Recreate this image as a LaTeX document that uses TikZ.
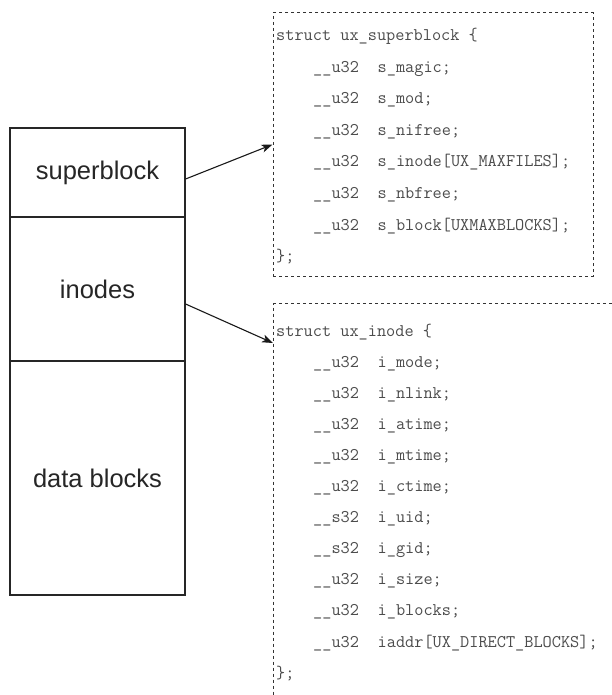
\documentclass[tikz,border=0pt]{standalone}
\usepackage{fontspec}
\setmainfont{Liberation Sans}
\usetikzlibrary{arrows.meta,calc}
\begin{document}
\begin{tikzpicture}[x=1pt,y=-1pt,
  cell/.style={draw=black!85,line width=1.2pt,minimum width=175pt,inner sep=0pt,
    font=\fontsize{25.5}{30}\selectfont,text=black!85},
  dbox/.style={draw=black!80,line width=1pt,dash pattern=on 3pt off 3pt,inner sep=0pt},
  code/.style={anchor=base west,inner sep=0pt,font=\ttfamily\fontsize{17.8}{20}\selectfont,text=black!70},
  arr/.style={draw=black!90,line width=1.1pt,-{Stealth[length=11pt,width=8pt,inset=3pt]}}]
\useasboundingbox[fill=white] (0,0) rectangle (612,695);
\clip (0,0) rectangle (612,695);

% on-disk layout column
\node[cell,minimum height=89pt]  (c1) at (97.5,172.5) {superblock};
\node[cell,minimum height=144pt] (c2) at (97.5,289)   {inodes};
\node[cell,minimum height=234pt] (c3) at (97.5,478)   {data blocks};

% struct ux_superblock
\node[dbox,minimum width=320pt,minimum height=263pt] (sbox) at (433,144.5) {};
\node[code] (s0) at (276,41) {struct ux\_superblock \{};
\foreach \t [count=\k] in {
  {\_\_u32\hspace{1.05em}s\_magic;},
  {\_\_u32\hspace{1.05em}s\_mod;},
  {\_\_u32\hspace{1.05em}s\_nifree;},
  {\_\_u32\hspace{1.05em}s\_inode[UX\_MAXFILES];},
  {\_\_u32\hspace{1.05em}s\_nbfree;},
  {\_\_u32\hspace{1.05em}s\_block[UXMAXBLOCKS];}}
  \node[code] (s\k) at (313,41+31.5*\k) {\t};
\node[code] (s7) at (276,41+31.5*7) {\};};

% struct ux_inode (runs past the right and bottom edges)
\node[dbox,anchor=north west,minimum width=400pt,minimum height=420pt] (ibox) at (273,303) {};
\node[code] (i0) at (276,336) {struct ux\_inode \{};
\foreach \t [count=\k] in {
  {\_\_u32\hspace{1.05em}i\_mode;},
  {\_\_u32\hspace{1.05em}i\_nlink;},
  {\_\_u32\hspace{1.05em}i\_atime;},
  {\_\_u32\hspace{1.05em}i\_mtime;},
  {\_\_u32\hspace{1.05em}i\_ctime;},
  {\_\_s32\hspace{1.05em}i\_uid;},
  {\_\_s32\hspace{1.05em}i\_gid;},
  {\_\_u32\hspace{1.05em}i\_size;},
  {\_\_u32\hspace{1.05em}i\_blocks;},
  {\_\_u32\hspace{1.05em}iaddr[UX\_DIRECT\_BLOCKS];}}
  \node[code] (i\k) at (313,336+31.1*\k) {\t};
\node[code] (i11) at (276,336+31.1*11) {\};};

% connectors
\draw[arr] ([yshift=-6.5pt]c1.east) -- (sbox.west);
\draw[arr] ([yshift=-15pt]c2.east) -- ([yshift=-40pt]ibox.north west);
\end{tikzpicture}
\end{document}
